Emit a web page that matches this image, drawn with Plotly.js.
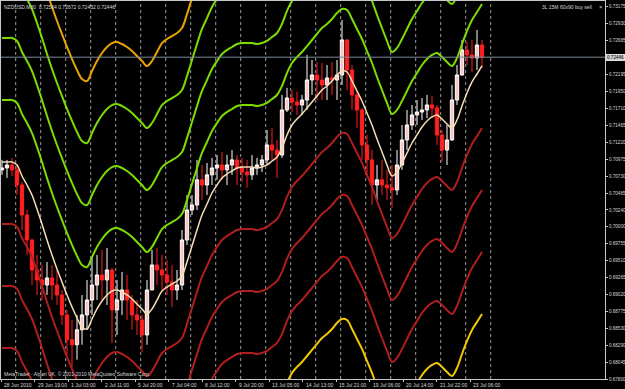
<!DOCTYPE html>
<html><head><meta charset="utf-8">
<script src="https://cdn.plot.ly/plotly-3.0.1.min.js"></script>
<style>html,body{margin:0;padding:0;background:#000;overflow:hidden}#chart{width:625px;height:389px}</style>
</head><body><div id="chart"></div>
<script>
const openP = [
0.70819,0.70847,0.70890,0.70819,0.70601,0.70168,0.69807,0.69374,0.69230,0.69157,
0.69259,0.69157,0.69013,0.68725,0.68366,0.68294,0.68510,0.68725,0.68941,0.69157,
0.69302,0.69230,0.69374,0.68797,0.68941,0.69085,0.68941,0.68725,0.68652,0.68436,
0.69085,0.69446,0.69374,0.69302,0.69201,0.69085,0.69157,0.69807,0.70240,0.70312,
0.70675,0.70601,0.70747,0.70847,0.70890,0.70819,0.70890,0.70963,0.70847,0.70789,
0.70747,0.70847,0.70890,0.70963,0.71179,0.71106,0.71034,0.71684,0.71857,0.71799,
0.71756,0.71828,0.72117,0.72189,0.72117,0.72045,0.72146,0.72117,0.72189,0.72695,
0.72261,0.71901,0.71684,0.71179,0.70963,0.70601,0.70675,0.70601,0.70560,0.70529,
0.70890,0.71251,0.71467,0.71612,0.71655,0.71684,0.71756,0.71713,0.71323,0.71106,
0.71251,0.71828,0.72189,0.72550,0.72478,0.72435,0.72622];
const highP = [
0.70963,0.70963,0.70991,0.70890,0.70646,0.70240,0.69820,0.69591,0.69446,0.69490,
0.69446,0.69374,0.69085,0.68797,0.68652,0.68725,0.69013,0.69230,0.69547,0.69591,
0.69663,0.69692,0.69403,0.69230,0.69345,0.69302,0.69013,0.68941,0.68725,0.69230,
0.69663,0.69692,0.69591,0.69518,0.69446,0.69374,0.69951,0.70457,0.70457,0.70963,
0.70890,0.70919,0.70991,0.71034,0.71078,0.71034,0.71106,0.71034,0.70991,0.70963,
0.71034,0.70991,0.71034,0.71395,0.71424,0.71251,0.71901,0.72002,0.71973,0.71944,
0.71901,0.72478,0.72406,0.72377,0.72362,0.72334,0.72377,0.72406,0.72983,0.72700,
0.72334,0.71973,0.71713,0.71323,0.71106,0.70890,0.70963,0.70819,0.70890,0.71106,
0.71467,0.71684,0.71756,0.71828,0.71857,0.71901,0.71886,0.71756,0.71395,0.71467,
0.72045,0.72334,0.72695,0.72666,0.72695,0.72839,0.72695];
const lowP = [
0.70747,0.70703,0.70731,0.70457,0.69951,0.69591,0.69157,0.69013,0.68941,0.69013,
0.68941,0.68869,0.68580,0.68147,0.67974,0.68079,0.68294,0.68510,0.68725,0.68941,
0.68941,0.68869,0.68320,0.68436,0.68725,0.68652,0.68510,0.68436,0.68190,0.68294,
0.69085,0.69157,0.69085,0.69013,0.68840,0.68941,0.69085,0.69735,0.70168,0.70240,
0.70385,0.70457,0.70601,0.70675,0.70675,0.70601,0.70747,0.70601,0.70646,0.70560,
0.70675,0.70747,0.70789,0.70890,0.70963,0.70703,0.70991,0.71655,0.71655,0.71612,
0.71612,0.71684,0.71901,0.71828,0.71828,0.71828,0.71901,0.71828,0.72045,0.71973,
0.71684,0.71424,0.70963,0.70747,0.70312,0.70385,0.70457,0.70385,0.70269,0.70457,
0.70819,0.71106,0.71395,0.71467,0.71540,0.71568,0.71568,0.71179,0.70933,0.70890,
0.71240,0.71756,0.72180,0.72334,0.72233,0.72261,0.72290];
const closeP = [
0.70847,0.70890,0.70819,0.70601,0.70168,0.69807,0.69374,0.69230,0.69157,0.69259,
0.69157,0.69013,0.68725,0.68366,0.68294,0.68510,0.68725,0.68941,0.69157,0.69302,
0.69230,0.69374,0.68797,0.68941,0.69085,0.68941,0.68725,0.68652,0.68436,0.69085,
0.69446,0.69374,0.69302,0.69201,0.69085,0.69157,0.69807,0.70240,0.70312,0.70675,
0.70601,0.70747,0.70847,0.70890,0.70819,0.70890,0.70963,0.70847,0.70789,0.70747,
0.70847,0.70890,0.70963,0.71179,0.71106,0.71034,0.71684,0.71857,0.71799,0.71756,
0.71828,0.72117,0.72189,0.72117,0.72045,0.72146,0.72117,0.72189,0.72695,0.72261,
0.71901,0.71684,0.71179,0.70963,0.70601,0.70675,0.70601,0.70560,0.70529,0.70890,
0.71251,0.71467,0.71612,0.71655,0.71684,0.71756,0.71713,0.71323,0.71106,0.71251,
0.71828,0.72189,0.72550,0.72478,0.72435,0.72622,0.72446];
const centerMA = [
0.70933,0.70933,0.70933,0.70890,0.70731,0.70601,0.70456,0.70254,0.70038,0.69807,
0.69590,0.69388,0.69200,0.69013,0.68840,0.68681,0.68551,0.68522,0.68666,0.68811,
0.68926,0.69013,0.69070,0.69085,0.69056,0.69013,0.68955,0.68883,0.68811,0.68738,
0.68811,0.68940,0.69070,0.69128,0.69171,0.69215,0.69287,0.69489,0.69720,0.69951,
0.70168,0.70326,0.70485,0.70601,0.70702,0.70760,0.70803,0.70846,0.70861,0.70861,
0.70861,0.70846,0.70861,0.70890,0.70947,0.71005,0.71135,0.71323,0.71467,0.71554,
0.71626,0.71712,0.71799,0.71886,0.71972,0.72030,0.72102,0.72189,0.72247,0.72232,
0.72102,0.71958,0.71814,0.71640,0.71467,0.71265,0.71077,0.70890,0.70731,0.70789,
0.70918,0.71063,0.71207,0.71323,0.71438,0.71525,0.71583,0.71611,0.71554,0.71481,
0.71424,0.71539,0.71741,0.71929,0.72088,0.72203,0.72319];
const bandStep = 0.00895;
const bandLevels = [4, 3, 2, 1, -1, -2, -3, -4];
const bandColors = ['#E8A400', '#7CDC00', '#7CDC00', '#7CDC00', '#B01E1E', '#B01E1E', '#B01E1E', '#F2C800'];
const priceTicks = [0.73175,0.72930,0.72685,0.72440,0.72195,0.71950,0.71710,0.71465,0.71220,0.70975,0.70730,0.70485,0.70240,0.70000,0.69755,0.69510,0.69265,0.69020,0.68775,0.68530,0.68290,0.68045,0.67800];
const timeLabels = ['28 Jun 2010','29 Jun 19:00','1 Jul 03:00','2 Jul 11:00','5 Jul 20:00','7 Jul 04:00','8 Jul 12:00','9 Jul 20:00','13 Jul 05:00','14 Jul 13:00','15 Jul 21:00','19 Jul 06:00','20 Jul 14:00','21 Jul 22:00','23 Jul 06:00'];
const timeLabelPos = [-0.2,6.5,13.2,19.9,26.6,33.3,40.0,46.7,53.4,60.1,66.8,73.5,80.2,86.9,93.6];
const gridPos = [2.74,7.74,12.74,17.74,22.74,27.74,32.74,37.74,42.74,47.74,52.74,57.74,62.74,67.74,72.74,77.74,82.74,87.74,92.74,97.74];
const lastPrice = 0.72446;
const headerText = 'NZDUSD,M30  0.72564 0.72672 0.72432 0.72446';
const expertText = '3L 15M 60x90 buy sell';
const footerText = 'MetaTrader - Alpari UK, © 2001-2010 MetaQuotes Software Corp.';

const barIdx = closeP.map((_, i) => i);
const FONT = 'Liberation Sans, Arial, sans-serif';
const TXT = '#D8D8D8';
const traces = [];
bandLevels.forEach((k, j) => {
  traces.push({
    type: 'scatter', mode: 'lines', x: barIdx,
    y: centerMA.map(v => v + k * bandStep),
    line: {color: bandColors[j], width: 2, shape: 'spline'},
    hoverinfo: 'skip', showlegend: false
  });
});
traces.push({
  type: 'candlestick', x: barIdx, open: openP, high: highP, low: lowP, close: closeP,
  increasing: {line: {color: '#FFFFFF', width: 1}, fillcolor: '#FFC4C4'},
  decreasing: {line: {color: '#FF2020', width: 1}, fillcolor: '#FF2020'},
  whiskerwidth: 0, showlegend: false, hoverinfo: 'skip'
});
traces.push({
  type: 'scatter', mode: 'lines', x: barIdx, y: centerMA,
  line: {color: '#F5DEB3', width: 1.5, shape: 'spline'},
  hoverinfo: 'skip', showlegend: false
});

const shapes = gridPos.map(g => ({
  type: 'line', xref: 'x', yref: 'paper', x0: g, x1: g, y0: 0, y1: 1,
  line: {color: '#9A9A9A', width: 1, dash: 'dot'}, layer: 'below'
}));
shapes.push({type: 'line', xref: 'paper', yref: 'y', x0: 0, x1: 1, y0: lastPrice, y1: lastPrice,
  line: {color: '#7A8A9A', width: 1}});

const annotations = [
  {xref: 'paper', yref: 'paper', x: 0.002, y: 0.985, xanchor: 'left', yanchor: 'middle', showarrow: false,
   text: headerText, font: {family: FONT, size: 5, color: TXT}},
  {xref: 'paper', yref: 'paper', x: 0.982, y: 0.985, xanchor: 'right', yanchor: 'middle', showarrow: false,
   text: expertText, font: {family: FONT, size: 5, color: TXT}},
  {xref: 'paper', yref: 'paper', x: 0.993, y: 0.985, xanchor: 'center', yanchor: 'middle', showarrow: false,
   text: '×', font: {family: FONT, size: 6, color: TXT}},
  {xref: 'paper', yref: 'paper', x: 0.002, y: 0.012, xanchor: 'left', yanchor: 'middle', showarrow: false,
   text: footerText, font: {family: FONT, size: 5, color: TXT}},
  {xref: 'paper', yref: 'y', x: 1, y: lastPrice, xanchor: 'left', yanchor: 'middle', xshift: 1, showarrow: false,
   text: lastPrice.toFixed(5), font: {family: FONT, size: 4.6, color: '#000'},
   bgcolor: '#D0D0D0', bordercolor: '#E0E0E0', borderwidth: 1, borderpad: 0}
];
timeLabels.forEach((t, i) => {
  annotations.push({xref: 'x', yref: 'paper', x: timeLabelPos[i], y: 0, xanchor: 'left', yanchor: 'top',
    xshift: 1, yshift: -1, showarrow: false, text: t, font: {family: FONT, size: 5, color: TXT}});
});

const layout = {
  width: 625, height: 389,
  margin: {l: 1, r: 20, t: 1, b: 10, pad: 0},
  paper_bgcolor: '#000', plot_bgcolor: '#000',
  showlegend: false, boxgap: 0.05,
  xaxis: {
    range: [-0.2, 120.6], showgrid: false, zeroline: false,
    tickmode: 'array', tickvals: timeLabelPos, showticklabels: false,
    ticks: 'outside', ticklen: 2, tickcolor: '#C8C8C8',
    showline: true, linecolor: '#C8C8C8', linewidth: 1, mirror: true,
    rangeslider: {visible: false}, fixedrange: true
  },
  yaxis: {
    side: 'right', range: [0.678, 0.73257], showgrid: false, zeroline: false,
    tickmode: 'array', tickvals: priceTicks,
    ticktext: priceTicks.map(v => Math.abs(v - lastPrice) < 0.0001 ? '' : v.toFixed(5)),
    ticks: 'outside', ticklen: 2, tickcolor: '#C8C8C8',
    tickfont: {family: FONT, size: 4.6, color: TXT},
    showline: true, linecolor: '#C8C8C8', linewidth: 1, mirror: true, fixedrange: true
  },
  shapes: shapes,
  annotations: annotations
};
Plotly.newPlot('chart', traces, layout, {staticPlot: true, displayModeBar: false});
</script></body></html>
